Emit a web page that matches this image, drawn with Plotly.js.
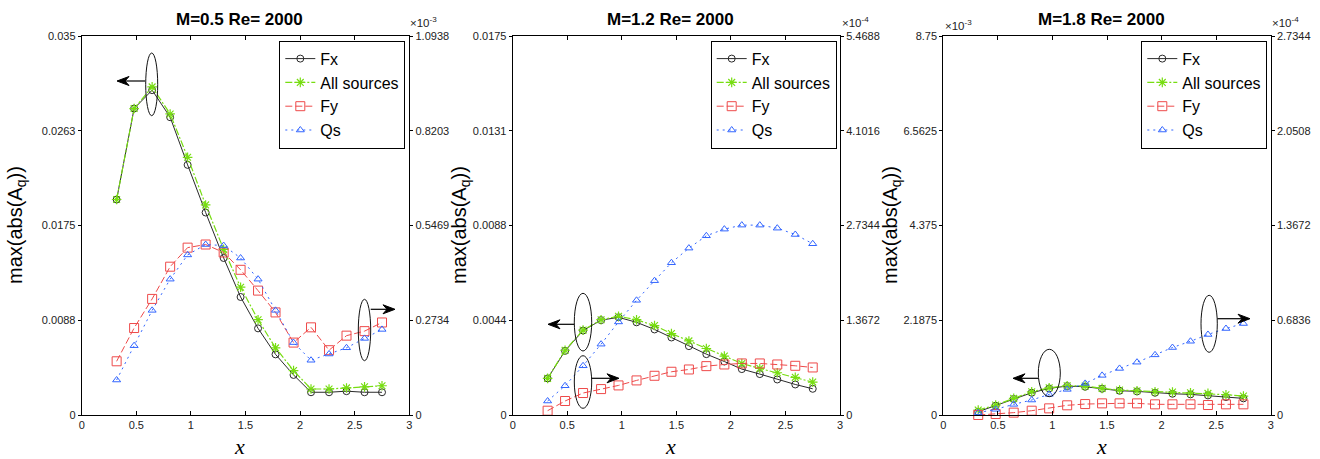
<!DOCTYPE html>
<html>
<head>
<meta charset="utf-8">
<script src="https://cdn.plot.ly/plotly-3.0.1.min.js"></script>
<style>html,body{margin:0;padding:0;background:#fff;}#chart{width:1320px;height:459px;}</style>
</head>
<body>
<div id="chart"></div>
<script>
// ---- data ----
const xv = [0.32, 0.48, 0.645, 0.81, 0.97, 1.135, 1.30, 1.455, 1.615, 1.775, 1.94, 2.10, 2.265, 2.425, 2.59, 2.75];

const titles = ["M=0.5 Re= 2000", "M=1.2 Re= 2000", "M=1.8 Re= 2000"];
const seriesNames = ["Fx", "All sources", "Fy", "Qs"];

// Panel 1 (left axis: raw; right axis: x10^-3)
const fx1  = [0.0199, 0.0283, 0.0300, 0.0275, 0.0231, 0.0187, 0.0145, 0.0109, 0.0080, 0.0056, 0.0037, 0.0021, 0.0021, 0.0022, 0.0021, 0.0021];
const all1 = [0.0199, 0.0283, 0.0303, 0.0278, 0.0238, 0.0194, 0.0153, 0.0118, 0.0088, 0.0062, 0.0041, 0.0024, 0.0024, 0.0025, 0.0026, 0.0027];
const fy1  = [0.155, 0.251, 0.335, 0.428, 0.483, 0.492, 0.469, 0.419, 0.359, 0.296, 0.209, 0.253, 0.187, 0.229, 0.242, 0.267];
const qs1  = [0.101, 0.200, 0.302, 0.392, 0.462, 0.492, 0.489, 0.453, 0.392, 0.302, 0.209, 0.158, 0.176, 0.194, 0.221, 0.247];

// Panel 2 (left axis: raw; right axis: x10^-4)
const fx2  = [0.00169, 0.00296, 0.00390, 0.00438, 0.00451, 0.00428, 0.00395, 0.00358, 0.00318, 0.00281, 0.00247, 0.00212, 0.00189, 0.00164, 0.00141, 0.00121];
const all2 = [0.00169, 0.00299, 0.00392, 0.00440, 0.00456, 0.00440, 0.00413, 0.00376, 0.00342, 0.00307, 0.00272, 0.00238, 0.00215, 0.00195, 0.00174, 0.00152];
const fy2  = [0.062, 0.202, 0.317, 0.374, 0.427, 0.499, 0.566, 0.624, 0.657, 0.705, 0.729, 0.744, 0.744, 0.729, 0.710, 0.686];
const qs2  = [0.202, 0.422, 0.710, 1.022, 1.343, 1.655, 1.938, 2.197, 2.408, 2.586, 2.682, 2.740, 2.740, 2.696, 2.605, 2.471];

// Panel 3 (left axis: x10^-3; right axis: x10^-4)
const fx3  = [0.076, 0.214, 0.368, 0.514, 0.614, 0.668, 0.652, 0.606, 0.560, 0.545, 0.514, 0.491, 0.476, 0.453, 0.414, 0.384];
const all3 = [0.115, 0.230, 0.384, 0.537, 0.629, 0.675, 0.668, 0.614, 0.576, 0.560, 0.537, 0.530, 0.514, 0.499, 0.468, 0.438];
const fy3  = [0.000, 0.007, 0.017, 0.031, 0.048, 0.070, 0.079, 0.084, 0.084, 0.084, 0.077, 0.077, 0.077, 0.072, 0.077, 0.077];
const qs3  = [0.017, 0.041, 0.077, 0.108, 0.149, 0.185, 0.228, 0.286, 0.336, 0.381, 0.434, 0.487, 0.532, 0.581, 0.624, 0.660];

// tick labels
const xTicks = [0, 0.5, 1, 1.5, 2, 2.5, 3];
const leftTicks1  = ["0", "0.0088", "0.0175", "0.0263", "0.035"];
const rightTicks1 = ["0", "0.2734", "0.5469", "0.8203", "1.0938"];
const leftTicks2  = ["0", "0.0044", "0.0088", "0.0131", "0.0175"];
const rightTicks2 = ["0", "1.3672", "2.7344", "4.1016", "5.4688"];
const leftTicks3  = ["0", "2.1875", "4.375", "6.5625", "8.75"];
const rightTicks3 = ["0", "0.6836", "1.3672", "2.0508", "2.7344"];
const leftMax  = [0.035, 0.0175, 8.75];
const rightMax = [1.09375, 5.46875, 2.734375];

// ---- layout helpers ----
const W = 1320, H = 459;
const px = v => v / W;
const py = v => 1 - v / H;
const xDomains = [[81.7, 409.3], [512.7, 840.0], [943.3, 1270.7]];
const yDom = [py(415), py(36)];

const tickFont = {family: "Liberation Sans Narrow, Liberation Sans, Arial, sans-serif", size: 11, color: "#222"};
const C = {fx: "#2a2a2a", all: "#77dd11", fy: "#ee4a4a", qs: "#3366ff"};

const panels = [
  {fx: fx1, all: all1, fy: fy1, qs: qs1, lt: leftTicks1, rt: rightTicks1},
  {fx: fx2, all: all2, fy: fy2, qs: qs2, lt: leftTicks2, rt: rightTicks2},
  {fx: fx3, all: all3, fy: fy3, qs: qs3, lt: leftTicks3, rt: rightTicks3}
];

const data = [];
const layout = {
  width: W, height: H,
  margin: {l: 0, r: 0, t: 0, b: 0},
  paper_bgcolor: "#fff", plot_bgcolor: "#fff",
  font: {family: "Liberation Sans, Arial, sans-serif", color: "#000"},
  shapes: [], annotations: []
};

const legendRight = [405.3, 836.7, 1267.3];

panels.forEach((p, i) => {
  const n = i + 1;
  const xa = n === 1 ? "x" : "x" + n;
  const yl = "y" + (2 * i + 1 === 1 ? "" : (2 * i + 1));
  const yr = "y" + (2 * i + 2);
  const lg = n === 1 ? "legend" : "legend" + n;

  const common = {x: xv, mode: "lines+markers", xaxis: xa, legend: lg, cliponaxis: false, hoverinfo: "skip"};
  data.push(Object.assign({}, common, {y: p.fx, yaxis: yl, name: seriesNames[0],
    line: {color: C.fx, width: 1}, marker: {symbol: "circle-open", size: 7, color: C.fx, line: {width: 1, color: C.fx}}}));
  data.push(Object.assign({}, common, {y: p.all, yaxis: yl, name: seriesNames[1],
    line: {color: C.all, width: 1.2, dash: "7px,2px,2px,2px"}, marker: {symbol: "asterisk-open", size: 8, color: C.all, line: {width: 1.2, color: C.all}}}));
  data.push(Object.assign({}, common, {y: p.fy, yaxis: yr, name: seriesNames[2],
    line: {color: C.fy, width: 1, dash: "7px,3px"}, marker: {symbol: "square-open", size: 9, color: C.fy, line: {width: 1, color: C.fy}}}));
  data.push(Object.assign({}, common, {y: p.qs, yaxis: yr, name: seriesNames[3],
    line: {color: C.qs, width: 1, dash: "2px,4px"}, marker: {symbol: "triangle-up-open", size: 7, color: C.qs, line: {width: 1, color: C.qs}}}));

  const xKey = n === 1 ? "xaxis" : "xaxis" + n;
  const ylKey = "yaxis" + (2 * i + 1 === 1 ? "" : (2 * i + 1));
  const yrKey = "yaxis" + (2 * i + 2);

  layout[xKey] = {
    domain: [px(xDomains[i][0]), px(xDomains[i][1])], anchor: yl, range: [0, 3],
    tickvals: xTicks, ticktext: xTicks.map(String), ticks: "inside", ticklen: 4, tickcolor: "#000",
    showline: true, linecolor: "#000", linewidth: 1, mirror: "ticks",
    showgrid: false, zeroline: false, tickfont: tickFont, fixedrange: true
  };
  const lv = [0, 0.25, 0.5, 0.75, 1].map(f => f * leftMax[i]);
  const rv = [0, 0.25, 0.5, 0.75, 1].map(f => f * rightMax[i]);
  layout[ylKey] = {
    domain: yDom, anchor: xa, range: [0, leftMax[i]], side: "left",
    tickvals: lv, ticktext: p.lt, ticks: "outside", ticklen: 3, tickcolor: "#000",
    showline: true, linecolor: "#000", linewidth: 1,
    showgrid: false, zeroline: false, tickfont: tickFont, fixedrange: true
  };
  layout[yrKey] = {
    overlaying: yl, anchor: xa, range: [0, rightMax[i]], side: "right",
    tickvals: rv, ticktext: p.rt, ticks: "outside", ticklen: 3, tickcolor: "#000",
    showline: true, linecolor: "#000", linewidth: 1,
    showgrid: false, zeroline: false, tickfont: tickFont, fixedrange: true
  };

  layout[lg] = {
    x: px(legendRight[i]), xanchor: "right", y: py(40.7), yanchor: "top",
    bgcolor: "#fff", bordercolor: "#000", borderwidth: 1,
    font: {family: "Liberation Sans, Arial, sans-serif", size: 16, color: "#000"},
    tracegroupgap: 0, itemwidth: 30
  };
});

// titles
const titleX = [239.5, 670.3, 1101.7];
titleX.forEach((x, i) => layout.annotations.push({
  text: "<b>" + titles[i] + "</b>", xref: "paper", yref: "paper", x: px(x), y: py(19),
  xanchor: "center", yanchor: "middle", showarrow: false,
  font: {family: "Liberation Sans, Arial, sans-serif", size: 17, color: "#000"}
}));
// y titles
const yTitleX = [16, 460, 891];
yTitleX.forEach(x => layout.annotations.push({
  text: "max(abs(A<sub>q</sub>))", xref: "paper", yref: "paper", x: px(x), y: py(225),
  xanchor: "center", yanchor: "middle", textangle: -90, showarrow: false,
  font: {family: "Liberation Sans, Arial, sans-serif", size: 20, color: "#000"}
}));
// x titles
const xTitleX = [239, 670, 1101];
xTitleX.forEach(x => layout.annotations.push({
  text: "<i>x</i>", xref: "paper", yref: "paper", x: px(x), y: py(446),
  xanchor: "center", yanchor: "middle", showarrow: false,
  font: {family: "Liberation Serif, Times New Roman, serif", size: 22, color: "#000"}
}));
// exponent labels
[[408, "-3"], [840, "-4"], [943, "-3"], [1270, "-4"]].forEach(([x, e], k) => layout.annotations.push({
  text: "×10<sup>" + e + "</sup>", xref: "paper", yref: "paper", x: px(x), y: py(k === 2 ? 25 : 22),
  xanchor: "left", yanchor: "middle", showarrow: false,
  font: {family: "Liberation Sans, Arial, sans-serif", size: 11.5, color: "#222"}
}));

// ellipses (callouts)
const ellipses = [
  [145.7, 53, 157.7, 115.7], [358.3, 299.3, 370.7, 360.7],
  [574.3, 293.3, 591.7, 351], [574.3, 355.7, 591.7, 408.3],
  [1038.3, 349.3, 1060.3, 396.7], [1201, 295.3, 1217.3, 352.3]
];
ellipses.forEach(e => layout.shapes.push({
  type: "circle", xref: "paper", yref: "paper",
  x0: px(e[0]), x1: px(e[2]), y0: py(e[3]), y1: py(e[1]),
  line: {color: "#111", width: 1}, fillcolor: "rgba(0,0,0,0)"
}));
// arrows: [tailX, headX, y]
const arrows = [[145, 117, 81], [370.7, 395, 309.3], [574, 548, 324.3], [591.7, 619, 378.3], [1038.3, 1013, 378.3], [1217.3, 1250, 318.7]];
arrows.forEach(([t, h, y]) => {
  const d = t > h ? 1 : -1; // direction from head back toward tail
  layout.shapes.push({
    type: "line", xref: "paper", yref: "paper",
    x0: px(t), x1: px(h + d * 6), y0: py(y), y1: py(y),
    line: {color: "#000", width: 1.2}
  });
  const pts = [[h, y], [h + d * 12, y - 4.5], [h + d * 8, y], [h + d * 12, y + 4.5]];
  layout.shapes.push({
    type: "path", xref: "paper", yref: "paper",
    path: "M " + pts.map(q => px(q[0]) + "," + py(q[1])).join(" L ") + " Z",
    fillcolor: "#000", line: {color: "#000", width: 1}
  });
});

Plotly.newPlot("chart", data, layout, {staticPlot: true, displayModeBar: false});
</script>
</body>
</html>
